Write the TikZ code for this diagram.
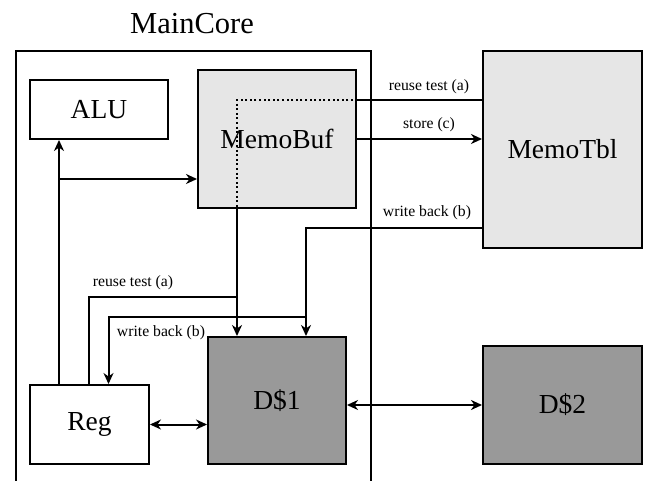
\documentclass[tikz,border=0pt]{standalone}
\usepackage{fontspec}
\setmainfont{Liberation Serif}
\usetikzlibrary{arrows.meta}
\begin{document}
\begin{tikzpicture}[x=1pt,y=-1pt,
  box/.style={draw,line width=2pt,inner sep=0pt,font=\fontsize{27.5}{30}\selectfont},
  whitebox/.style={box,fill=white},
  darkbox/.style={box,fill=darkfill},
  conn/.style={line width=2pt},
  tip/.tip={Stealth[length=11pt,width=10pt,inset=3.5pt]},
  arr/.style={conn,-tip},
  arrtwo/.style={conn,tip-tip},
  dots/.style={line width=2pt,dash pattern=on 2pt off 2.6pt},
  lbl/.style={inner sep=0pt,font=\fontsize{15.7}{18}\selectfont}]
\definecolor{darkfill}{HTML}{999999}
\definecolor{lightfill}{HTML}{E6E6E6}
\useasboundingbox (0,0) rectangle (646,481);
% frame
\node[font=\fontsize{30.5}{34}\selectfont,inner sep=0pt] (title) at (192,24) {MainCore};
\draw[conn] (16,490) -- (16,51) coordinate (fnw) -- (371,51) coordinate (fne) -- (371,490);
% boxes
\node[whitebox,minimum width=138,minimum height=59] (alu) at (99,109.5) {ALU};
\node[box,fill=lightfill,minimum width=158,minimum height=138] (memobuf) at (277,139) {MemoBuf};
\node[box,fill=lightfill,minimum width=159,minimum height=197] (memotbl) at (562.5,149.5) {MemoTbl};
\node[whitebox,minimum width=119,minimum height=79] (reg) at (89.5,424.5) {Reg};
\node[darkbox,minimum width=138,minimum height=127] (d1) at (277,400.5) {D\$1};
\node[darkbox,minimum width=159,minimum height=118] (d2) at (562.5,405) {D\$2};
% Reg -> ALU and MemoBuf
\draw[arr] ([xshift=30]reg.north west) -- ([xshift=30]alu.south west);
\coordinate (j1) at (60,179);
\draw[arr] (j1) -- (j1 -| memobuf.west);
% store
\draw[arr] (memobuf.east) -- (memobuf.east -| memotbl.west);
% reuse test
\coordinate (rt) at (237,100);
\draw[conn] (memotbl.west |- rt) -- (rt -| memobuf.east);
\draw[dots] ([xshift=-4]rt -| memobuf.east) -- (rt) -- ([yshift=-4]rt |- memobuf.south);
\draw[arr] (rt |- memobuf.south) -- (rt |- d1.north);
\coordinate (rtb) at (237,297);
\draw[conn] (rtb) -| (89,385) coordinate (rtend);
% write back
\coordinate (wb) at (306,228);
\draw[arr] (memotbl.west |- wb) -- (wb) -- (wb |- d1.north);
\coordinate (wbb) at (306,317);
\draw[arr] (wbb) -| ([xshift=79.5]reg.north west);
% data paths
\draw[arrtwo] (reg.east) -- (reg.east -| d1.west);
\draw[arrtwo] (d2.west -| d1.east) -- (d2.west);
% labels
\node[lbl] (l1) at (429,87) {reuse test (a)};
\node[lbl] (l2) at (429,125) {store (c)};
\node[lbl] (l3) at (427,213) {write back (b)};
\node[lbl] (l4) at (133,283) {reuse test (a)};
\node[lbl] (l5) at (161,333) {write back (b)};
\end{tikzpicture}
\end{document}
